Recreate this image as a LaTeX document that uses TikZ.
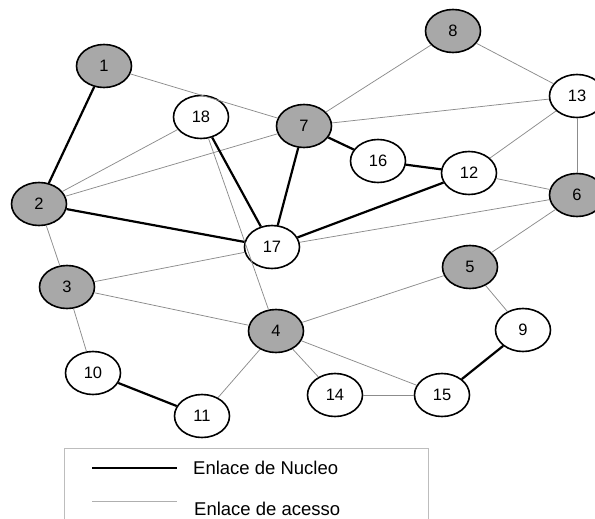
\documentclass[tikz,border=0pt]{standalone}
\usepackage{fontspec}
\setmainfont{Liberation Sans}
\usetikzlibrary{shapes.geometric}
\definecolor{corefill}{HTML}{A8A8A8}
\definecolor{accessline}{HTML}{8C8C8C}
\definecolor{legendframe}{HTML}{BDBDBD}
\begin{document}
\begin{tikzpicture}[x=1pt,y=-1pt,
  site/.style={ellipse,draw=black,line width=1.6pt,fill=white,
    minimum width=55pt,minimum height=43pt,inner sep=0pt,
    font=\fontsize{16.5}{16.5}\selectfont},
  hub/.style={site,fill=corefill},
  core/.style={line width=2.2pt,black},
  access/.style={line width=0.75pt,accessline},
  legendtext/.style={font=\fontsize{18.5}{18.5}\selectfont,anchor=base west,inner sep=0pt}]
\useasboundingbox (0,0) rectangle (595,519);
\clip (0,0) rectangle (595,519);

% network sites
\node[hub]  (n1)  at (104,66)  {1};
\node[hub]  (n2)  at (39,204)  {2};
\node[hub]  (n3)  at (67,287)  {3};
\node[hub]  (n4)  at (276,331) {4};
\node[hub]  (n5)  at (470,267) {5};
\node[hub]  (n6)  at (577,195) {6};
\node[hub]  (n7)  at (304,126) {7};
\node[hub]  (n8)  at (453,31)  {8};
\node[site] (n9)  at (523,330) {9};
\node[site] (n10) at (93,373)  {10};
\node[site] (n11) at (202,416) {11};
\node[site] (n12) at (469,173) {12};
\node[site] (n13) at (577,96)  {13};
\node[site] (n14) at (335,395) {14};
\node[site] (n15) at (442,395) {15};
\node[site] (n16) at (378,161) {16};
\node[site] (n17) at (272,247) {17};
\node[site] (n18) at (201,117) {18};

% access links
\foreach \a/\b in {n1/n7, n2/n18, n2/n7, n2/n3, n3/n17, n3/n4, n3/n10,
                   n18/n4, n4/n11, n4/n5, n4/n15, n4/n14, n14/n15,
                   n5/n9, n5/n6, n17/n6, n12/n6, n12/n13, n7/n13,
                   n7/n8, n8/n13, n13/n6}
  \draw[access] (\a) -- (\b);

% core links
\foreach \a/\b in {n1/n2, n2/n17, n18/n17, n7/n17, n7/n16, n16/n12,
                   n17/n12, n10/n11, n15/n9}
  \draw[core] (\a) -- (\b);

% legend
\draw[legendframe,line width=0.9pt] (64,448) rectangle (428,540);
\coordinate (k1a) at (92,468);
\coordinate (k1b) at (177,468);
\coordinate (k2a) at (92,501);
\coordinate (k2b) at (177,501);
\draw[core] (k1a) -- (k1b);
\draw[access,line width=0.6pt,color=accessline!70] (k2a) -- (k2b);
\node[legendtext] (lbcore) at (193,474.5) {Enlace de Nucleo};
\node[legendtext] (lbaccess) at (194,515.5) {Enlace de acesso};
\end{tikzpicture}
\end{document}
